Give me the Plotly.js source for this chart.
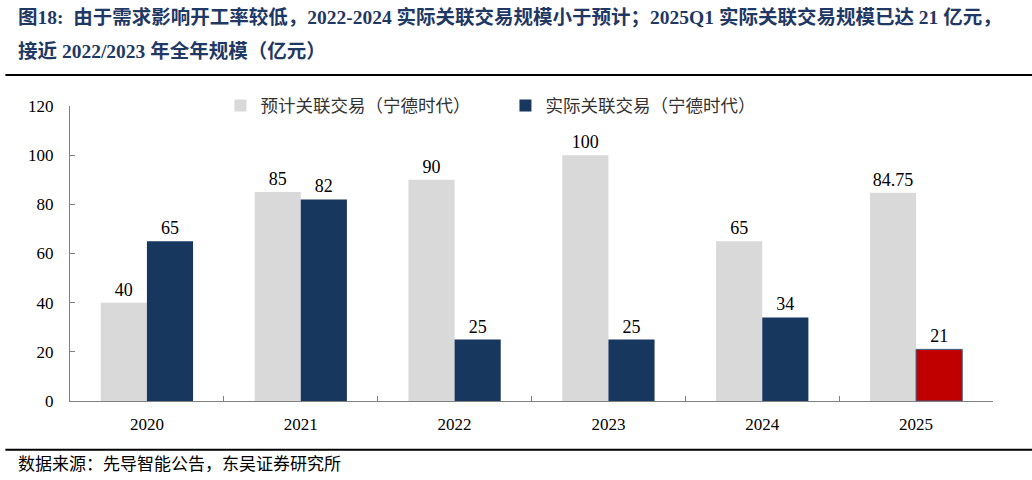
<!DOCTYPE html>
<html>
<head>
<meta charset="utf-8">
<script src="https://cdn.plot.ly/plotly-3.0.1.min.js"></script>
<style>
  html, body { margin: 0; padding: 0; background: #fff; }
  #chart { width: 1032px; height: 480px; }
</style>
</head>
<body>
<div id="chart"></div>
<script>
const years = ['2020', '2021', '2022', '2023', '2024', '2025'];
const planned = [40, 85, 90, 100, 65, 84.75];
const actual = [65, 82, 25, 25, 34, 21];
const plannedName = '预计关联交易（宁德时代）';
const actualName = '实际关联交易（宁德时代）';
const titleLine1 = '图18:  由于需求影响开工率较低，2022-2024 实际关联交易规模小于预计；2025Q1 实际关联交易规模已达 21 亿元，';
const titleLine2 = '接近 2022/2023 年全年规模（亿元）';
const sourceText = '数据来源：先导智能公告，东吴证券研究所';

const serif = '"Liberation Serif", "Noto Sans CJK SC", serif';
const navy = '#17375E';
const grey = '#D9D9D9';
const red = '#C00000';

// last year is only Q1, drawn in red
const actualColors = actual.map((v, i) => i === actual.length - 1 ? red : navy);
const actualLines = actual.map((v, i) => i === actual.length - 1 ? 1 : 0);

const data = [
  {
    type: 'bar',
    name: plannedName,
    x: years,
    y: planned,
    text: planned.map(String),
    textposition: 'outside',
    cliponaxis: false,
    textfont: { family: serif, size: 18, color: '#000' },
    marker: { color: grey }
  },
  {
    type: 'bar',
    name: actualName,
    x: years,
    y: actual,
    text: actual.map(String),
    textposition: 'outside',
    cliponaxis: false,
    textfont: { family: serif, size: 18, color: '#000' },
    marker: { color: actualColors, line: { color: '#3B5A80', width: actualLines } }
  }
];

const layout = {
  width: 1032,
  height: 480,
  margin: { l: 70, r: 39, t: 106, b: 79 },
  paper_bgcolor: '#fff',
  plot_bgcolor: '#fff',
  font: { family: serif, size: 16, color: '#000' },
  barmode: 'group',
  bargap: 0.4,
  bargroupgap: 0,
  showlegend: true,
  legend: {
    orientation: 'h',
    x: 0.163, xanchor: 'left',
    y: 1.062, yanchor: 'top',
    entrywidth: 240, entrywidthmode: 'pixels',
    font: { family: serif, size: 17.5, color: '#333' },
    itemwidth: 30
  },
  xaxis: {
    type: 'category',
    showline: true, linecolor: '#808080', linewidth: 1,
    ticks: 'inside', tickson: 'boundaries', ticklen: 5, tickcolor: '#808080',
    ticklabelstandoff: 8,
    tickfont: { family: serif, size: 17, color: '#000' },
    showgrid: false, zeroline: false, fixedrange: true
  },
  yaxis: {
    range: [0, 120], dtick: 20,
    showline: true, linecolor: '#808080', linewidth: 1,
    ticks: 'inside', ticklen: 5, tickcolor: '#808080',
    ticklabelstandoff: 12,
    tickfont: { family: serif, size: 17, color: '#000' },
    showgrid: false, zeroline: false, fixedrange: true
  },
  annotations: [
    { text: '<b>' + titleLine1 + '</b>', xref: 'paper', yref: 'paper', x: -0.058, y: 1.302,
      xanchor: 'left', yanchor: 'middle', showarrow: false,
      font: { family: serif, size: 19.5, color: '#1F3864' } },
    { text: '<b>' + titleLine2 + '</b>', xref: 'paper', yref: 'paper', x: -0.058, y: 1.186,
      xanchor: 'left', yanchor: 'middle', showarrow: false,
      font: { family: serif, size: 19.5, color: '#1F3864' } },
    { text: sourceText, xref: 'paper', yref: 'paper', x: -0.058, y: -0.214,
      xanchor: 'left', yanchor: 'middle', showarrow: false,
      font: { family: serif, size: 17, color: '#000' } }
  ],
  shapes: [
    { type: 'line', xref: 'paper', yref: 'paper', x0: -0.07, x1: 1.043, y0: 1.105, y1: 1.105,
      line: { color: '#000', width: 2 } },
    { type: 'line', xref: 'paper', yref: 'paper', x0: -0.07, x1: 1.043, y0: -0.165, y1: -0.165,
      line: { color: '#000', width: 2 } }
  ]
};

Plotly.newPlot('chart', data, layout, { displayModeBar: false, staticPlot: true });
</script>
</body>
</html>
